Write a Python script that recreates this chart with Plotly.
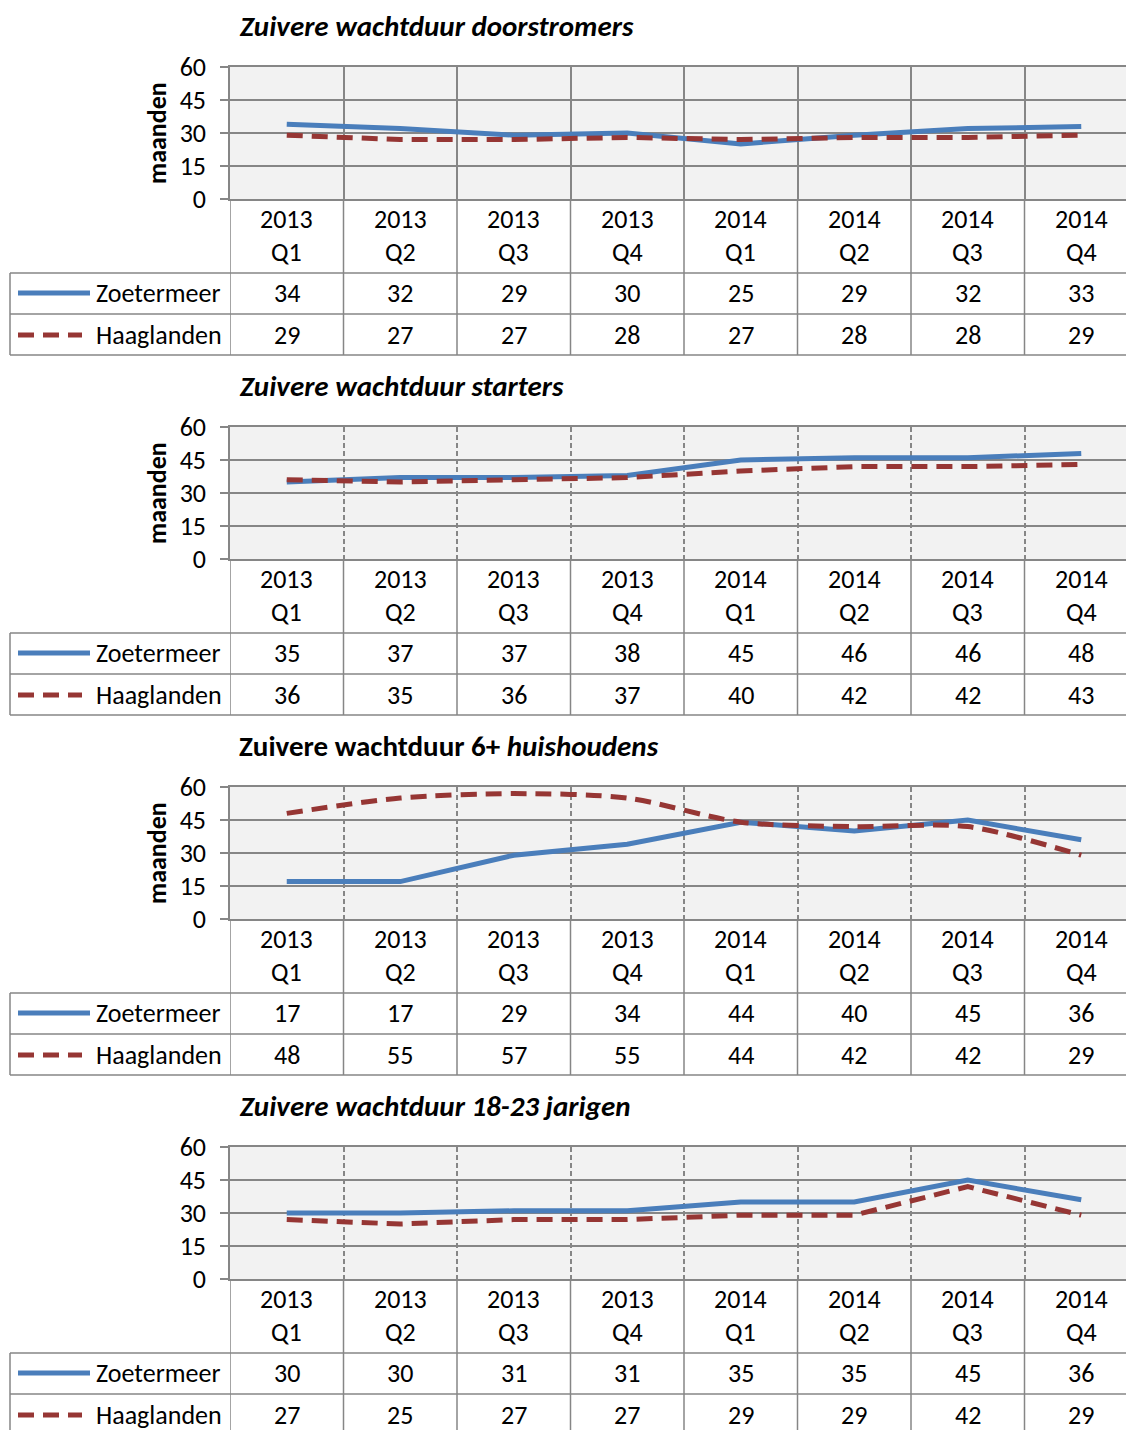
import plotly.graph_objects as go

W, H = 1126, 1430

years = ["2013", "2013", "2013", "2013", "2014", "2014", "2014", "2014"]
quarters = ["Q1", "Q2", "Q3", "Q4", "Q1", "Q2", "Q3", "Q4"]
yticks = [0, 15, 30, 45, 60]
series_names = ["Zoetermeer", "Haaglanden"]

titles = [
    "<b><i>Zuivere wachtduur doorstromers</i></b>",
    "<b><i>Zuivere wachtduur starters</i></b>",
    "<b>Zuivere wachtduur 6+ <i>huishoudens</i></b>",
    "<b><i>Zuivere wachtduur 18-23 jarigen</i></b>",
]

zoet_doorstromers = [34, 32, 29, 30, 25, 29, 32, 33]
haag_doorstromers = [29, 27, 27, 28, 27, 28, 28, 29]
zoet_starters = [35, 37, 37, 38, 45, 46, 46, 48]
haag_starters = [36, 35, 36, 37, 40, 42, 42, 43]
zoet_zes_plus = [17, 17, 29, 34, 44, 40, 45, 36]
haag_zes_plus = [48, 55, 57, 55, 44, 42, 42, 29]
zoet_jongeren = [30, 30, 31, 31, 35, 35, 45, 36]
haag_jongeren = [27, 25, 27, 27, 29, 29, 42, 29]

panels = [
    (zoet_doorstromers, haag_doorstromers),
    (zoet_starters, haag_starters),
    (zoet_zes_plus, haag_zes_plus),
    (zoet_jongeren, haag_jongeren),
]
show_ylabel = [True, True, True, False]
grid_dash = ["solid", "5px,3px", "5px,3px", "5px,3px"]
smooth_haag = [False, False, True, False]

BLUE = "#4a7ebb"
RED = "#963634"
GRID = "#868686"
FONT = "Carlito, Calibri, Lato, 'Open Sans', sans-serif"
FS = 26

fig = go.Figure()
shapes = []
annotations = []

PLOT_L = 230
PLOT_R = 1126
COLW = 113.5
span = (PLOT_R - PLOT_L) / COLW
xrange = [-0.5, -0.5 + span]
xdom = [PLOT_L / W, 1.0]


def py(p):
    return 1 - p / H


def px(p):
    return p / W


n = len(years)
xs = list(range(n))

for i, (zs, hs) in enumerate(panels):
    off = 360 * i
    top = 67 + off
    bot = 199 + off
    ax = "" if i == 0 else str(i + 1)
    xa = "x" + ax
    ya = "y" + ax

    fig.add_trace(go.Scatter(
        x=xs, y=zs, mode="lines", name=series_names[0], showlegend=False,
        line=dict(color=BLUE, width=5), xaxis=xa, yaxis=ya, hoverinfo="skip"))
    fig.add_trace(go.Scatter(
        x=xs, y=hs, mode="lines", name=series_names[1], showlegend=False,
        line=dict(color=RED, width=5, dash="16px,9px",
                  shape="spline" if smooth_haag[i] else "linear", smoothing=0.8),
        xaxis=xa, yaxis=ya, hoverinfo="skip"))

    fig.layout["xaxis" + ax] = dict(
        domain=xdom, range=xrange, anchor=ya, showticklabels=False,
        showgrid=False, zeroline=False, showline=True, mirror=True,
        linecolor=GRID, linewidth=1.5, ticks="",
        tickvals=[k + 0.5 for k in range(n - 1)],
        minor=dict(tickvals=[k + 0.5 for k in range(n - 1)], showgrid=True,
                   gridcolor=GRID, gridwidth=1.6, griddash=grid_dash[i]),
    )
    fig.layout["yaxis" + ax] = dict(
        domain=[py(bot), py(top)], range=[0, 60], anchor=xa,
        tickvals=yticks, ticks="outside", ticklen=8, tickcolor=GRID,
        tickwidth=1.5, showline=True, linecolor=GRID, linewidth=1.5,
        gridcolor=GRID, gridwidth=1.5, zeroline=False,
        ticklabelstandoff=9,
        tickfont=dict(family=FONT, size=FS, color="#000"),
    )

    if show_ylabel[i]:
        annotations.append(dict(
            text="<b>maanden</b>", xref="paper", yref="paper", x=px(157),
            y=py(133 + off), xanchor="center", yanchor="middle", textangle=-90,
            showarrow=False, font=dict(family=FONT, size=FS, color="#000")))

    # title
    annotations.append(dict(
        text=titles[i], xref="paper", yref="paper", x=px(237), y=py(26 + off),
        xanchor="left", yanchor="middle", showarrow=False,
        font=dict(family=FONT, size=29, color="#000")))

    # category labels and table values
    for k in range(n):
        for txt, yy in ((years[k], 219), (quarters[k], 252),
                        (str(zs[k]), 293), (str(hs[k]), 335)):
            annotations.append(dict(
                text=txt, xref=xa, yref="paper", x=k, y=py(yy + off),
                xanchor="center", yanchor="middle", showarrow=False,
                font=dict(family=FONT, size=FS, color="#000")))

    # legend names in table
    for j, name in enumerate(series_names):
        annotations.append(dict(
            text=name, xref="paper", yref="paper", x=px(94),
            y=py(293 + 42 * j + off), xanchor="left", yanchor="middle",
            showarrow=False, font=dict(family=FONT, size=FS, color="#000")))

    # legend line samples
    shapes.append(dict(type="line", xref="paper", yref="paper",
                       x0=px(18), x1=px(90), y0=py(293 + off), y1=py(293 + off),
                       line=dict(color=BLUE, width=5)))
    shapes.append(dict(type="line", xref="paper", yref="paper",
                       x0=px(18), x1=px(82), y0=py(335 + off), y1=py(335 + off),
                       line=dict(color=RED, width=5, dash="16px,9px")))

    # table horizontal lines
    for yy in (273, 314, 355):
        shapes.append(dict(type="line", xref="paper", yref="paper",
                           x0=px(10), x1=1, y0=py(yy + off), y1=py(yy + off),
                           line=dict(color=GRID, width=1.5)))
    # table left border
    shapes.append(dict(type="line", xref="paper", yref="paper",
                       x0=px(10), x1=px(10), y0=py(273 + off), y1=py(355 + off),
                       line=dict(color=GRID, width=1.5)))
    # vertical lines below plot
    for k in range(n):
        shapes.append(dict(type="line", xref=xa, yref="paper",
                           x0=k - 0.5, x1=k - 0.5, y0=py(bot), y1=py(355 + off),
                           line=dict(color=GRID, width=1.5)))

fig.update_layout(
    width=W, height=H,
    margin=dict(l=0, r=0, t=0, b=0, pad=0, autoexpand=False),
    paper_bgcolor="white", plot_bgcolor="#f2f2f2",
    shapes=shapes, annotations=annotations, showlegend=False,
    font=dict(family=FONT, color="#000"),
)

fig.write_html("out.html")
